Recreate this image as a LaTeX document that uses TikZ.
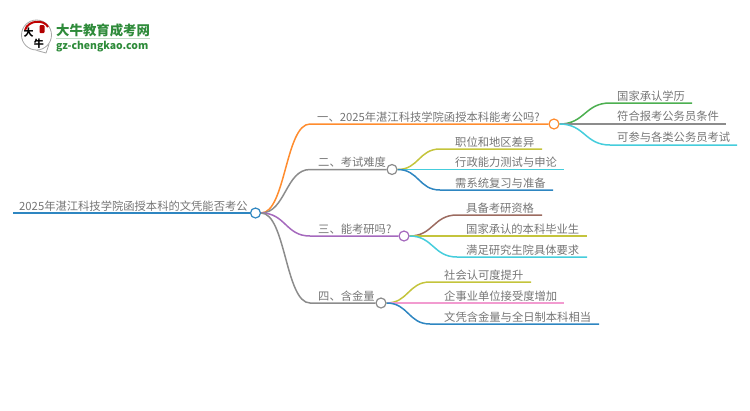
\documentclass[tikz,border=0pt]{standalone}
\usepackage{fontspec}
\setmainfont{Noto Sans CJK SC}
\usepackage{xcolor}
\usetikzlibrary{calc}
\definecolor{txtgray}{HTML}{757575}
\definecolor{rootblue}{HTML}{2E86C1}
\definecolor{orangeline}{HTML}{FF8C2E}
\definecolor{grayline}{HTML}{8C8C8C}
\definecolor{purpleline}{HTML}{A569BD}
\definecolor{greenline}{HTML}{4CAF50}
\definecolor{cyanline}{HTML}{45CDDC}
\definecolor{oliveline}{HTML}{C4C43C}
\definecolor{blueline}{HTML}{2E86C1}
\definecolor{brownline}{HTML}{9C6B60}
\definecolor{pinkline}{HTML}{F29BD0}
\definecolor{logogreen}{HTML}{2E8B3A}
\tikzset{
    label/.style={anchor=base west, inner sep=0pt, text=txtgray, font=\fontsize{11.3}{13}\selectfont},
    dot/.style={circle, draw, fill=white, line width=1.2pt, minimum size=10pt, inner sep=0pt},
    wire/.style={line width=1.5pt},
    curve/.style={to path={.. controls ($(\tikztostart)!.5!(\tikztotarget|-\tikztostart)$) and ($(\tikztotarget)!.5!(\tikztostart|-\tikztotarget)$) .. (\tikztotarget)}}
}
\begin{document}
\begin{tikzpicture}[x=1pt, y=-1pt]
    \useasboundingbox (0,0) rectangle (750,410);
    % logo
    \node[circle, draw=black!35, line width=0.8pt, minimum size=30pt, inner sep=0pt] (bubble) at (36.5,35) {};
    \coordinate (tail) at (46,53);
    \draw[black!35, line width=0.8pt] (bubble.south) -- (tail) -- (bubble.-35);
    \draw[red!75!black, line width=2pt] (25,30) .. controls (28,20) and (44,19) .. (48,27);
    \node[fill=red!70!black, inner sep=0pt, minimum width=5pt, minimum height=8pt, rounded corners=1pt] (logoseal) at (42,29) {};
    \node[inner sep=0pt, font=\fontsize{10}{10}\bfseries\selectfont] (logoa) at (28.5,32.5) {大};
    \node[inner sep=0pt, font=\fontsize{10}{10}\bfseries\selectfont] (logob) at (39,43.5) {牛};
    \node[anchor=base west, inner sep=0pt, text=logogreen, font=\fontsize{13.4}{14}\bfseries\selectfont] (logoname) at (56,35) {大牛教育成考网};
    \node[anchor=base west, inner sep=0pt, text=logogreen, font=\fontsize{10.4}{12}\bfseries\selectfont] (logourl) at (56,49) {gz-chengkao.com};
    \draw[logogreen!30, line width=0.8pt] (logoname.base west) ++(0,3) -- ++(94,0);
    % root
    \node[dot, draw=rootblue] (rootdot) at (255.5,213) {};
    \coordinate (rootstart) at (13,213);
    \node[label] (roottext) at (19,210) {2025年湛江科技学院函授本科的文凭能否考公};
    \draw[wire, rootblue] (rootstart) -- (rootdot);
    % first level
    \node[dot, draw=orangeline] (onedot) at (554,124) {};
    \node[dot, draw=grayline] (twodot) at (392,169.5) {};
    \node[dot, draw=purpleline] (threedot) at (404,236) {};
    \node[dot, draw=grayline] (fourdot) at (381,303) {};
    \coordinate (onestart) at (310,124);
    \coordinate (twostart) at (310,169.5);
    \coordinate (threestart) at (310,236);
    \coordinate (fourstart) at (310,303);
    \node[label] (onetext) at (317,121) {一、2025年湛江科技学院函授本科能考公吗?};
    \node[label] (twotext) at (318,166.5) {二、考试难度};
    \node[label] (threetext) at (318,233) {三、能考研吗?};
    \node[label] (fourtext) at (318,300) {四、含金量};
    \draw[wire, orangeline] (rootdot.east) to[curve] (onestart) -- (onedot);
    \draw[wire, grayline] (rootdot.east) to[curve] (twostart) -- (twodot);
    \draw[wire, purpleline] (rootdot.east) to[curve] (threestart) -- (threedot);
    \draw[wire, grayline] (rootdot.east) to[curve] (fourstart) -- (fourdot);
    % leaves of one
    \node[label] (onea) at (617,100) {国家承认学历};
    \node[label] (oneb) at (617,120.5) {符合报考公务员条件};
    \node[label] (onec) at (617,141.5) {可参与各类公务员考试};
    \coordinate (oneas) at (610,103);
    \coordinate (onebs) at (610,124);
    \coordinate (onecs) at (610,145);
    \coordinate (oneae) at (692,103);
    \coordinate (onebe) at (726,124);
    \coordinate (once) at (737,145);
    \draw[wire, greenline] (onedot.east) to[curve] (oneas) -- (oneae);
    \draw[wire, grayline] (onedot.east) -- (onebs) -- (onebe);
    \draw[wire, cyanline] (onedot.east) to[curve] (onecs) -- (once);
    % leaves of two
    \node[label] (twoa) at (455,146) {职位和地区差异};
    \node[label] (twob) at (455,166.5) {行政能力测试与申论};
    \node[label] (twoc) at (455,187) {需系统复习与准备};
    \coordinate (twoas) at (440,149);
    \coordinate (twocs) at (440,190);
    \coordinate (twoae) at (542,149);
    \coordinate (twobe) at (564,169.5);
    \coordinate (twoce) at (553,190);
    \draw[wire, oliveline] (twodot.east) to[curve] (twoas) -- (twoae);
    \draw[wire, cyanline] (twodot.east) -- (twobe);
    \draw[wire, blueline] (twodot.east) to[curve] (twocs) -- (twoce);
    % leaves of three
    \node[label] (threea) at (466,212) {具备考研资格};
    \node[label] (threeb) at (466,233) {国家承认的本科毕业生};
    \node[label] (threec) at (466,254) {满足研究生院具体要求};
    \coordinate (threeas) at (457,215);
    \coordinate (threecs) at (457,257);
    \coordinate (threeae) at (542,215);
    \coordinate (threebe) at (587,236);
    \coordinate (threece) at (587,257);
    \draw[wire, brownline] (threedot.east) to[curve] (threeas) -- (threeae);
    \draw[wire, oliveline] (threedot.east) -- (threebe);
    \draw[wire, cyanline] (threedot.east) to[curve] (threecs) -- (threece);
    % leaves of four
    \node[label] (foura) at (444,279) {社会认可度提升};
    \node[label] (fourb) at (444,300) {企事业单位接受度增加};
    \node[label] (fourc) at (444,321) {文凭含金量与全日制本科相当};
    \coordinate (fouras) at (430,282);
    \coordinate (fourcs) at (430,324);
    \coordinate (fourae) at (531,282);
    \coordinate (fourbe) at (564,303);
    \coordinate (fource) at (599,324);
    \draw[wire, oliveline] (fourdot.east) to[curve] (fouras) -- (fourae);
    \draw[wire, pinkline] (fourdot.east) -- (fourbe);
    \draw[wire, blueline] (fourdot.east) to[curve] (fourcs) -- (fource);
\end{tikzpicture}
\end{document}
